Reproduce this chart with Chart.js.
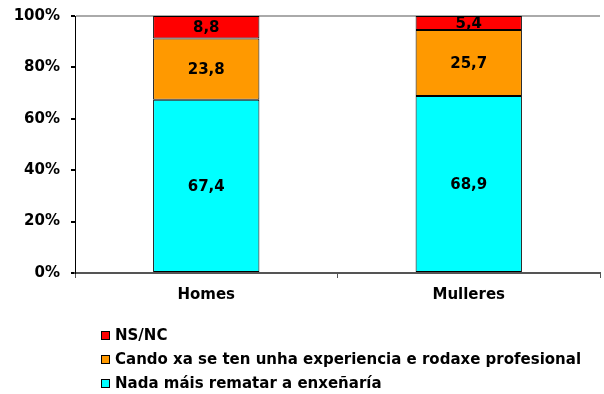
<!DOCTYPE html>
<html>
<head>
<meta charset="utf-8">
<script src="https://cdn.jsdelivr.net/npm/chart.js@4/dist/chart.umd.min.js"></script>
<style>
  html, body { margin: 0; padding: 0; background: #fff; }
  #wrap { width: 604px; height: 394px; }
</style>
</head>
<body>
<div id="wrap"><canvas id="chart" width="604" height="394"></canvas></div>
<script>
// Categorias e series (porcentaxes)
const categories = ['Homes', 'Mulleres'];
const nadaMais = [67.4, 68.9];
const experiencia = [23.8, 25.7];
const nsnc = [8.8, 5.4];
const yTicks = [0, 20, 40, 60, 80, 100];

const FONT = 'DejaVu Sans, Verdana, sans-serif';

// Etiquetas de valor no centro de cada segmento
const valueLabels = {
    id: 'valueLabels',
    afterDatasetsDraw(chart) {
        const ctx = chart.ctx;
        ctx.save();
        ctx.font = 'bold 15px ' + FONT;
        ctx.fillStyle = '#000';
        ctx.textAlign = 'center';
        ctx.textBaseline = 'middle';
        chart.data.datasets.forEach((ds, i) => {
            chart.getDatasetMeta(i).data.forEach((bar, j) => {
                const p = bar.getProps(['x', 'y', 'base'], true);
                ctx.fillText(ds.data[j].toFixed(1).replace('.', ','), p.x, (p.y + p.base) / 2 + 1);
            });
        });
        ctx.restore();
    }
};

// Lenda vertical debaixo do grafico (orde inversa)
const bottomLegend = {
    id: 'bottomLegend',
    afterDraw(chart) {
        const ctx = chart.ctx;
        const items = chart.data.datasets.slice().reverse();
        ctx.save();
        ctx.font = 'bold 15px ' + FONT;
        ctx.textBaseline = 'middle';
        items.forEach((ds, i) => {
            const y = 335 + i * 24;
            ctx.fillStyle = ds.backgroundColor;
            ctx.fillRect(101, y - 4, 9, 9);
            ctx.strokeStyle = '#000';
            ctx.lineWidth = 1;
            ctx.strokeRect(101.5, y - 3.5, 8, 8);
            ctx.fillStyle = '#000';
            ctx.fillText(ds.label, 115, y + 1);
        });
        ctx.restore();
    }
};

new Chart(document.getElementById('chart'), {
    type: 'bar',
    data: {
        labels: categories,
        datasets: [
            { label: 'Nada máis rematar a enxeñaría', data: nadaMais, backgroundColor: '#00FFFF' },
            { label: 'Cando xa se ten unha experiencia e rodaxe profesional', data: experiencia, backgroundColor: '#FF9900' },
            { label: 'NS/NC', data: nsnc, backgroundColor: '#FF0000' }
        ]
    },
    options: {
        responsive: false,
        animation: false,
        layout: { padding: { left: 0, top: 16, right: 4, bottom: 0 } },
        datasets: {
            bar: {
                borderColor: '#000',
                borderWidth: 1,
                borderSkipped: false,
                barPercentage: 0.405,
                categoryPercentage: 1
            }
        },
        plugins: {
            legend: { display: false },
            tooltip: { enabled: false }
        },
        scales: {
            x: {
                stacked: true,
                grid: { offset: true, drawOnChartArea: false, color: '#555', tickLength: 5 },
                border: { color: '#555', width: 2 },
                ticks: { color: '#000', font: { family: FONT, size: 15, weight: 'bold' }, padding: 8 },
                afterFit(s) { s.height = 121; }
            },
            y: {
                stacked: true,
                min: 0,
                max: 100,
                afterBuildTicks(s) { s.ticks = yTicks.map(v => ({ value: v })); },
                grid: {
                    color: c => (c.tick && c.tick.value === 100) ? '#aaa' : 'transparent',
                    tickColor: '#000',
                    tickLength: 4,
                    lineWidth: 2
                },
                border: { color: '#000', width: 1 },
                ticks: {
                    color: '#000',
                    padding: 11,
                    font: { family: FONT, size: 15, weight: 'bold' },
                    callback: v => v + '%'
                },
                afterFit(s) { s.width = 75; s.paddingTop = 0; s.paddingBottom = 0; }
            }
        }
    },
    plugins: [valueLabels, bottomLegend]
});
</script>
</body>
</html>
